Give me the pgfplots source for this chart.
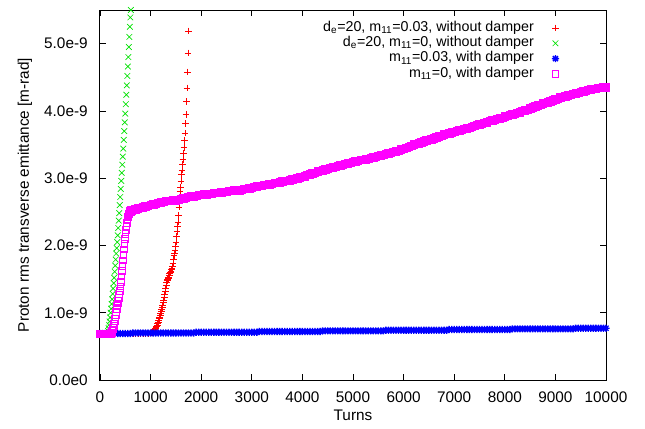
\documentclass[border=0pt]{standalone}
\usepackage{fontspec}
\setmainfont{Liberation Sans}
\usepackage{pgfplots}
\pgfplotsset{compat=1.18}
\definecolor{gpred}{RGB}{255,0,0}
\definecolor{gpgreen}{RGB}{0,225,0}
\definecolor{gpblue}{RGB}{0,0,255}
\definecolor{gpmag}{RGB}{255,0,255}
\pgfdeclareplotmark{gpstar}{%
 \pgfpathmoveto{\pgfqpoint{-\pgfplotmarksize}{0pt}}\pgfpathlineto{\pgfqpoint{\pgfplotmarksize}{0pt}}%
 \pgfpathmoveto{\pgfqpoint{0pt}{-\pgfplotmarksize}}\pgfpathlineto{\pgfqpoint{0pt}{\pgfplotmarksize}}%
 \pgfpathmoveto{\pgfqpoint{-.707\pgfplotmarksize}{-.707\pgfplotmarksize}}\pgfpathlineto{\pgfqpoint{.707\pgfplotmarksize}{.707\pgfplotmarksize}}%
 \pgfpathmoveto{\pgfqpoint{-.707\pgfplotmarksize}{.707\pgfplotmarksize}}\pgfpathlineto{\pgfqpoint{.707\pgfplotmarksize}{-.707\pgfplotmarksize}}%
 \pgfusepathqstroke}
\begin{document}
\fontsize{11.5}{13.8}\selectfont
\begin{tikzpicture}
\useasboundingbox (-75pt,-36pt) rectangle (408.75pt,285pt);
\begin{axis}[
 scale only axis, width=379.5pt, height=277.5pt,
 xmin=0, xmax=10000, ymin=0, ymax=5.5,
 clip=false,
 xtick={0,1000,...,10000},
 ytick={0,1,2,3,4,5},
 yticklabels={0.0e0,1.0e-9,2.0e-9,3.0e-9,4.0e-9,5.0e-9},
 scaled x ticks=false,
 /pgf/number format/assume math mode=true,
 /pgf/number format/1000 sep={},
 minor tick num=0,
 tick align=inside,
 major tick length=4.5pt,
 every tick/.style={black, line width=0.6pt},
 axis line style={black, line width=0.75pt},
 xticklabel style={yshift=-5pt},
 yticklabel style={xshift=-5.2pt},
 xlabel={Turns},
 xlabel style={at={(axis description cs:0.5,0)}, anchor=north, yshift=-18.5pt},
 ylabel={Proton rms transverse emittance [m-rad]},
 ylabel style={at={(axis description cs:-0.1482,0.5)}, anchor=center},
 legend plot pos=right,
 legend cell align=right,
 legend style={draw=none, fill=none, at={(axis description cs:1,1)}, anchor=north east,
   xshift=-35pt, yshift=-7.5pt, inner sep=0pt, row sep=0pt, column sep=11.5pt,
   font=\fontsize{10.7}{12.5}\selectfont,
   nodes={inner sep=2pt, text height=6.2pt, text depth=1.3pt}},
]
\addplot[only marks, mark=+, mark size=2.5pt, color=gpred, mark options={draw=gpred}, line width=0.5pt] coordinates {
(0,0.69)(50,0.69)(100,0.69)(150,0.69)(200,0.69)(250,0.69)(300,0.69)(350,0.69)(400,0.69)(450,0.69)
(500,0.69)(550,0.69)(600,0.69)(650,0.69)(700,0.69)(750,0.69)(800,0.69)(850,0.69)(900,0.69)(950,0.69)
(1000,0.70)(1010,0.70)(1020,0.71)(1030,0.71)(1040,0.72)(1050,0.72)(1060,0.73)(1070,0.74)(1080,0.75)(1090,0.76)
(1100,0.77)(1110,0.78)(1120,0.80)(1130,0.82)(1140,0.84)(1150,0.86)(1160,0.88)(1170,0.91)(1180,0.93)(1190,0.96)
(1200,0.99)(1210,1.02)(1220,1.05)(1230,1.08)(1240,1.11)(1250,1.15)(1260,1.19)(1270,1.23)(1280,1.27)(1290,1.32)
(1300,1.37)(1310,1.41)(1320,1.45)(1330,1.48)(1340,1.50)(1350,1.51)(1360,1.52)(1370,1.55)(1380,1.58)(1390,1.60)
(1400,1.62)(1410,1.64)(1420,1.66)(1430,1.69)(1440,1.74)(1450,1.79)(1460,1.85)(1470,1.89)(1480,1.93)(1490,1.99)
(1500,2.05)(1510,2.13)(1520,2.21)(1530,2.28)(1540,2.35)(1550,2.45)(1560,2.57)(1570,2.69)(1580,2.80)(1590,2.87)
(1600,2.96)(1610,3.05)(1620,3.12)(1630,3.20)(1640,3.28)(1650,3.37)(1660,3.46)(1670,3.56)(1680,3.67)(1690,3.81)
(1700,3.95)(1710,4.14)(1720,4.34)(1730,4.58)(1740,4.86)(1750,5.19)
};
\addlegendentry{d\textsubscript{e}=20, m\textsubscript{11}=0.03, without damper}
\addplot[only marks, mark=x, mark size=3pt, color=gpgreen, mark options={draw=gpgreen}, line width=0.5pt] coordinates {
(0,0.69)(50,0.69)(100,0.69)(150,0.70)(160,0.73)(170,0.77)(180,0.82)(190,0.87)
(200,0.93)(210,1.00)(220,1.06)(230,1.13)(240,1.20)(250,1.28)(260,1.36)(270,1.44)(280,1.52)(290,1.61)
(300,1.70)(310,1.79)(320,1.88)(330,1.96)(340,2.05)(350,2.15)(360,2.26)(370,2.37)(380,2.48)(390,2.60)
(400,2.72)(410,2.84)(420,2.96)(430,3.08)(440,3.20)(450,3.32)(460,3.44)(470,3.57)(480,3.70)(490,3.83)
(500,3.96)(510,4.10)(520,4.24)(530,4.38)(540,4.52)(550,4.66)(560,4.80)(570,4.95)(580,5.10)(590,5.25)
(600,5.39)(610,5.50)
};
\addlegendentry{d\textsubscript{e}=20, m\textsubscript{11}=0, without damper}
\addplot[only marks, mark=gpstar, mark size=2.7pt, color=gpblue, mark options={draw=gpblue}, line width=1pt] coordinates {
(0,0.69)(50,0.69)(100,0.69)(150,0.69)(200,0.69)(250,0.69)(300,0.69)(350,0.69)(400,0.69)(450,0.69)(500,0.69)(550,0.69)(600,0.69)
(650,0.70)(700,0.70)(750,0.70)(800,0.70)(850,0.70)(900,0.70)(950,0.70)(1000,0.70)(1050,0.70)(1100,0.70)(1150,0.70)(1200,0.70)
(1250,0.70)(1300,0.70)(1350,0.70)(1400,0.70)(1450,0.70)(1500,0.70)(1550,0.70)(1600,0.70)(1650,0.70)(1700,0.70)(1750,0.70)(1800,0.70)(1850,0.70)
(1900,0.71)(1950,0.71)(2000,0.71)(2050,0.71)(2100,0.71)(2150,0.71)(2200,0.71)(2250,0.71)(2300,0.71)(2350,0.71)(2400,0.71)(2450,0.71)
(2500,0.71)(2550,0.71)(2600,0.71)(2650,0.71)(2700,0.71)(2750,0.71)(2800,0.71)(2850,0.71)(2900,0.71)(2950,0.71)(3000,0.71)(3050,0.71)(3100,0.71)
(3150,0.72)(3200,0.72)(3250,0.72)(3300,0.72)(3350,0.72)(3400,0.72)(3450,0.72)(3500,0.72)(3550,0.72)(3600,0.72)(3650,0.72)(3700,0.72)
(3750,0.72)(3800,0.72)(3850,0.72)(3900,0.72)(3950,0.72)(4000,0.72)(4050,0.72)(4100,0.72)(4150,0.72)(4200,0.72)(4250,0.72)(4300,0.72)(4350,0.72)
(4400,0.73)(4450,0.73)(4500,0.73)(4550,0.73)(4600,0.73)(4650,0.73)(4700,0.73)(4750,0.73)(4800,0.73)(4850,0.73)(4900,0.73)(4950,0.73)
(5000,0.73)(5050,0.73)(5100,0.73)(5150,0.73)(5200,0.73)(5250,0.73)(5300,0.73)(5350,0.73)(5400,0.73)(5450,0.73)(5500,0.73)(5550,0.73)(5600,0.73)
(5650,0.74)(5700,0.74)(5750,0.74)(5800,0.74)(5850,0.74)(5900,0.74)(5950,0.74)(6000,0.74)(6050,0.74)(6100,0.74)(6150,0.74)(6200,0.74)
(6250,0.74)(6300,0.74)(6350,0.74)(6400,0.74)(6450,0.74)(6500,0.74)(6550,0.74)(6600,0.74)(6650,0.74)(6700,0.74)(6750,0.74)(6800,0.74)(6850,0.74)
(6900,0.75)(6950,0.75)(7000,0.75)(7050,0.75)(7100,0.75)(7150,0.75)(7200,0.75)(7250,0.75)(7300,0.75)(7350,0.75)(7400,0.75)(7450,0.75)
(7500,0.75)(7550,0.75)(7600,0.75)(7650,0.75)(7700,0.75)(7750,0.75)(7800,0.75)(7850,0.75)(7900,0.75)(7950,0.75)(8000,0.75)(8050,0.75)(8100,0.75)
(8150,0.76)(8200,0.76)(8250,0.76)(8300,0.76)(8350,0.76)(8400,0.76)(8450,0.76)(8500,0.76)(8550,0.76)(8600,0.76)(8650,0.76)(8700,0.76)
(8750,0.76)(8800,0.76)(8850,0.76)(8900,0.76)(8950,0.76)(9000,0.76)(9050,0.76)(9100,0.76)(9150,0.76)(9200,0.76)(9250,0.76)(9300,0.76)(9350,0.76)
(9400,0.77)(9450,0.77)(9500,0.77)(9550,0.77)(9600,0.77)(9650,0.77)(9700,0.77)(9750,0.77)(9800,0.77)(9850,0.77)(9900,0.77)(9950,0.77)(10000,0.77)
};
\addlegendentry{m\textsubscript{11}=0.03, with damper}
\addplot[forget plot, only marks, mark=square*, mark size=2.8pt, color=gpmag, mark options={draw=gpmag, fill=gpmag}, line width=0.5pt] coordinates {
(0,0.69)(20,0.69)(40,0.69)(60,0.69)(80,0.69)(100,0.69)(120,0.69)(140,0.69)(160,0.69)(180,0.69)(200,0.69)(220,0.70)
(600,2.51)(610,2.51)(620,2.52)(630,2.52)(640,2.53)(650,2.53)
(700,2.54)(750,2.55)(800,2.56)(850,2.57)(900,2.58)(950,2.59)(1000,2.60)(1050,2.61)(1100,2.62)(1150,2.63)
(1200,2.64)(1250,2.65)(1300,2.66)(1350,2.66)(1400,2.66)(1450,2.67)(1500,2.67)(1550,2.68)(1600,2.69)(1650,2.70)
(1700,2.71)(1750,2.72)(1800,2.73)(1850,2.73)(1900,2.74)(1950,2.75)(2000,2.75)(2050,2.76)(2100,2.76)(2150,2.77)
(2200,2.77)(2250,2.78)(2300,2.78)(2350,2.78)(2400,2.79)(2450,2.80)(2500,2.80)(2550,2.81)(2600,2.81)(2650,2.82)
(2700,2.82)(2750,2.82)(2800,2.83)(2850,2.84)(2900,2.84)(2950,2.85)(3000,2.86)(3050,2.87)(3100,2.88)(3150,2.89)
(3200,2.89)(3250,2.90)(3300,2.90)(3350,2.91)(3400,2.92)(3450,2.93)(3500,2.93)(3550,2.94)(3600,2.95)(3650,2.96)
(3700,2.96)(3750,2.97)(3800,2.98)(3850,2.99)(3900,3.00)(3950,3.01)(4000,3.02)(4050,3.03)(4100,3.05)(4150,3.06)
(4200,3.07)(4250,3.08)(4300,3.10)(4350,3.11)(4400,3.12)(4450,3.13)(4500,3.14)(4550,3.15)(4600,3.16)(4650,3.17)
(4700,3.18)(4750,3.19)(4800,3.20)(4850,3.21)(4900,3.22)(4950,3.23)(5000,3.24)(5050,3.25)(5100,3.26)(5150,3.27)
(5200,3.27)(5250,3.28)(5300,3.29)(5350,3.30)(5400,3.31)(5450,3.32)(5500,3.33)(5550,3.34)(5600,3.35)(5650,3.36)
(5700,3.37)(5750,3.38)(5800,3.39)(5850,3.40)(5900,3.41)(5950,3.43)(6000,3.44)(6050,3.45)(6100,3.47)(6150,3.48)
(6200,3.50)(6250,3.51)(6300,3.52)(6350,3.53)(6400,3.55)(6450,3.56)(6500,3.57)(6550,3.58)(6600,3.59)(6650,3.61)
(6700,3.62)(6750,3.63)(6800,3.65)(6850,3.66)(6900,3.67)(6950,3.68)(7000,3.69)(7050,3.70)(7100,3.71)(7150,3.72)
(7200,3.73)(7250,3.74)(7300,3.75)(7350,3.76)(7400,3.78)(7450,3.79)(7500,3.80)(7550,3.81)(7600,3.82)(7650,3.83)
(7700,3.85)(7750,3.86)(7800,3.87)(7850,3.88)(7900,3.89)(7950,3.90)(8000,3.92)(8050,3.93)(8100,3.94)(8150,3.95)
(8200,3.96)(8250,3.97)(8300,3.98)(8350,4.00)(8400,4.01)(8450,4.02)(8500,4.04)(8550,4.05)(8600,4.07)(8650,4.08)
(8700,4.09)(8750,4.11)(8800,4.12)(8850,4.13)(8900,4.14)(8950,4.16)(9000,4.17)(9050,4.18)(9100,4.20)(9150,4.21)
(9200,4.22)(9250,4.23)(9300,4.24)(9350,4.25)(9400,4.26)(9450,4.27)(9500,4.28)(9550,4.29)(9600,4.30)(9650,4.31)
(9700,4.32)(9750,4.33)(9800,4.33)(9850,4.34)(9900,4.34)(9950,4.35)(10000,4.35)
};
\addplot[only marks, mark=square, mark size=2.5pt, color=gpmag, mark options={draw=gpmag}, line width=0.6pt] coordinates {
(220,0.70)(230,0.71)(240,0.73)(250,0.75)(260,0.77)(270,0.80)(280,0.83)(290,0.87)
(300,0.91)(310,0.96)(320,1.01)(330,1.06)(340,1.10)(350,1.14)(360,1.18)(370,1.22)(380,1.27)(390,1.32)
(400,1.39)(410,1.46)(420,1.54)(430,1.62)(440,1.70)(450,1.78)(460,1.86)(470,1.94)(480,2.02)(490,2.10)
(500,2.17)(510,2.23)(520,2.29)(530,2.34)(540,2.38)(550,2.42)(560,2.45)(570,2.47)(580,2.49)(590,2.50)
(600,2.51)
};
\addlegendentry{m\textsubscript{11}=0, with damper}
\end{axis}
\end{tikzpicture}
\end{document}
